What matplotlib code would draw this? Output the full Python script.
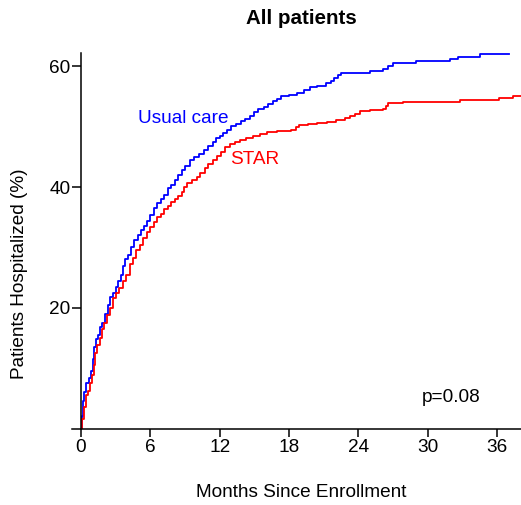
import matplotlib
matplotlib.use("Agg")
import matplotlib.pyplot as plt

plt.rcParams['font.family'] = ['Liberation Sans', 'DejaVu Sans']

# Usual care (blue) step curve: months, % hospitalized
usual_t = [0, 0.1, 0.2, 0.3, 0.45, 0.7, 0.9, 1.05, 1.15, 1.3, 1.45, 1.6, 1.85, 2.1, 2.3,
           2.5, 2.75, 3.0, 3.2, 3.45, 3.6, 3.8, 4.1, 4.35, 4.6, 4.9, 5.2, 5.45, 5.7, 6.0,
           6.3, 6.6, 6.9, 7.2, 7.5, 7.8, 8.1, 8.4, 8.7, 9.0, 9.4, 9.8, 10.2, 10.6, 11.0,
           11.4, 11.7, 12.0, 12.3, 12.6, 13.0, 13.4, 13.8, 14.2, 14.6, 15.0, 15.3, 15.8,
           16.2, 16.6, 17.0, 17.3, 18.0, 18.7, 19.3, 19.8, 20.4, 21.2, 21.6, 21.9, 22.2,
           22.5, 25.0, 26.1, 26.6, 27.0, 29.0, 31.9, 32.6, 34.5, 37.0]
usual_v = [0, 2.0, 4.5, 6.0, 7.5, 8.3, 9.5, 11.5, 13.5, 14.8, 15.5, 16.8, 17.5, 19.0, 20.5,
           21.8, 22.5, 23.5, 24.4, 25.5, 27.0, 28.0, 28.8, 30.0, 31.3, 32.0, 32.8, 33.6, 34.3, 35.3,
           36.5, 37.4, 38.0, 38.6, 39.8, 40.4, 41.1, 42.0, 42.8, 43.4, 44.4, 44.9, 45.5, 46.2, 46.8,
           47.5, 48.1, 48.5, 49.0, 49.5, 50.1, 50.5, 50.9, 51.3, 51.7, 52.5, 53.0, 53.3,
           53.8, 54.2, 54.6, 55.0, 55.3, 55.6, 56.0, 56.6, 56.8, 57.2, 57.6, 58.0, 58.5,
           58.9, 59.2, 59.6, 60.0, 60.5, 60.8, 61.2, 61.6, 62.0, 62.0]

# STAR (red) step curve
star_t = [0, 0.1, 0.25, 0.4, 0.6, 0.8, 0.95, 1.1, 1.25, 1.4, 1.6, 1.8, 2.0, 2.25, 2.5,
          2.8, 3.05, 3.3, 3.6, 3.9, 4.2, 4.5, 4.8, 5.1, 5.4, 5.7, 6.0, 6.3, 6.6, 6.9,
          7.2, 7.5, 7.8, 8.1, 8.4, 8.7, 8.9, 9.2, 9.6, 10.0, 10.3, 10.7, 11.0, 11.4, 11.8,
          12.1, 12.5, 12.9, 13.3, 13.75, 14.3, 14.9, 15.5, 16.1, 17.0, 18.2, 18.6, 18.9,
          19.6, 20.4, 21.3, 22.1, 22.8, 23.3, 23.7, 24.1, 25.0, 26.15, 26.4, 26.6, 27.9,
          32.8, 36.2, 37.4, 38.5]
star_v = [0, 1.5, 3.5, 5.5, 6.2, 7.5, 8.8, 10.5, 12.5, 13.8, 15.0, 16.5, 17.5, 18.8, 20.0,
          21.6, 22.5, 23.3, 24.5, 25.5, 27.2, 28.2, 29.5, 30.4, 31.5, 32.5, 33.3, 34.2, 35.0, 35.6,
          36.3, 36.8, 37.5, 38.0, 38.5, 39.2, 40.0, 40.6, 41.1, 41.7, 42.3, 43.2, 43.8, 44.5, 45.2,
          45.8, 46.6, 47.1, 47.5, 47.8, 48.1, 48.4, 48.8, 49.1, 49.3, 49.5, 49.9, 50.2,
          50.4, 50.6, 50.8, 51.1, 51.4, 51.7, 52.1, 52.6, 52.8, 53.0, 53.5, 54.0, 54.1,
          54.4, 54.8, 55.1, 55.1]

x_ticks = [0, 6, 12, 18, 24, 30, 36]
y_ticks = [20, 40, 60]

FS = 13.7

fig = plt.figure(figsize=(5.21, 5.05), dpi=100)
ax = fig.add_axes([72/521, 1 - 428.5/505, 449/521, 375.5/505])

ax.step(usual_t, usual_v, where='post', color='#0000FF', lw=1.3, clip_on=True)
ax.step(star_t, star_v, where='post', color='#FF0000', lw=1.3, clip_on=True)

ax.set_xlim(-0.78, 38.07)
ax.set_ylim(0, 62.2)

for s in ['top', 'right']:
    ax.spines[s].set_visible(False)
ax.spines['left'].set_position(('data', 0))
ax.spines['left'].set_linewidth(1.1)
ax.spines['bottom'].set_linewidth(1.1)

ax.set_xticks(x_ticks)
ax.set_yticks(y_ticks)
ax.tick_params(axis='x', direction='out', length=5.5, width=1.1, pad=2, labelsize=FS)
ax.tick_params(axis='y', direction='out', length=6.5, width=1.1, pad=1, labelsize=FS)

ax.set_xlabel('Months Since Enrollment', fontsize=FS)
ax.xaxis.set_label_coords(0.51, -0.148)
ax.xaxis.label.set_va('top')
ax.set_ylabel('Patients Hospitalized (%)', fontsize=FS)
ax.yaxis.set_label_coords(-0.097, 0.411)

ax.text(4.93, 51.4, 'Usual care', color='#0000FF', fontsize=FS, ha='left', va='center')
ax.text(12.9, 44.5, 'STAR', color='#FF0000', fontsize=FS, ha='left', va='center')
ax.text(29.5, 5.2, 'p=0.08', color='black', fontsize=FS, ha='left', va='center')

fig.text(301/521, 1 - 18.5/505, 'All patients', fontsize=14.8, fontweight='bold',
         ha='center', va='center')

fig.savefig('out.png', dpi=100)
